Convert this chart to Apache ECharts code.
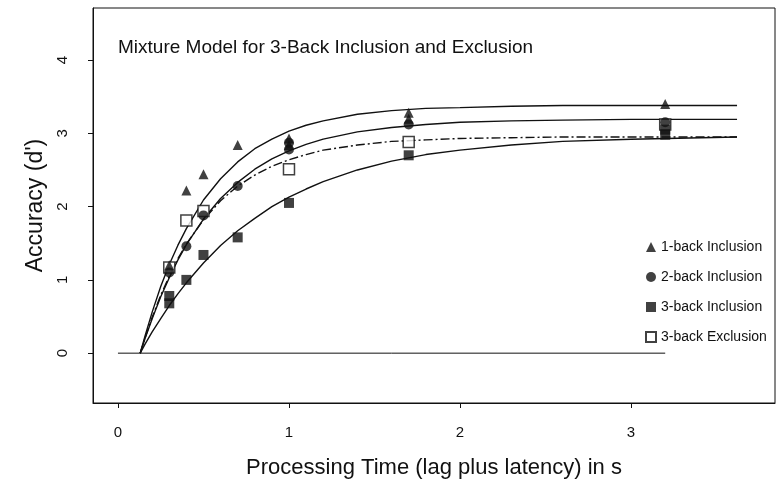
<!DOCTYPE html>
<html><head><meta charset="utf-8">
<script src="https://cdn.jsdelivr.net/npm/echarts@6/dist/echarts.min.js"></script>
<style>html,body{margin:0;padding:0;background:#fff}#c{width:776px;height:485px}</style>
</head><body><div id="c"></div>
<script>
// Observed data
var oneBackX = [0.3, 0.4, 0.5, 0.7, 1.0, 1.0, 1.7, 1.7, 3.2];
var oneBackY = [1.2, 2.22, 2.44, 2.84, 2.93, 2.84, 3.28, 3.2, 3.4];
var twoBackX = [0.3, 0.4, 0.5, 0.7, 1.0, 1.0, 1.7, 3.2];
var twoBackY = [1.1, 1.46, 1.88, 2.28, 2.87, 2.78, 3.12, 3.15];
var threeIncX = [0.3, 0.3, 0.4, 0.5, 0.7, 1.0, 1.7, 3.2, 3.2];
var threeIncY = [0.78, 0.68, 1.0, 1.34, 1.58, 2.05, 2.7, 3.05, 2.98];
var exclX = [0.3, 0.4, 0.5, 1.0, 1.7, 3.2];
var exclY = [1.17, 1.81, 1.94, 2.51, 2.88, 3.12];
// Model curves
var curveT = [0.13, 0.16, 0.2, 0.25, 0.3, 0.35, 0.4, 0.5, 0.6, 0.7, 0.8, 0.9, 1.0, 1.1, 1.2, 1.4, 1.6, 1.8, 2.0, 2.3, 2.6, 3.0, 3.62];
var curve1 = [0, 0.25, 0.56, 0.91, 1.21, 1.47, 1.70, 2.09, 2.38, 2.61, 2.79, 2.92, 3.03, 3.11, 3.17, 3.26, 3.31, 3.34, 3.35, 3.37, 3.38, 3.38, 3.38];
var curve2 = [0, 0.21, 0.47, 0.77, 1.03, 1.27, 1.48, 1.83, 2.11, 2.33, 2.51, 2.65, 2.76, 2.85, 2.92, 3.02, 3.08, 3.12, 3.15, 3.17, 3.18, 3.19, 3.19];
var curve3 = [0, 0.13, 0.29, 0.47, 0.65, 0.81, 0.96, 1.23, 1.47, 1.67, 1.84, 2.00, 2.13, 2.24, 2.34, 2.50, 2.62, 2.71, 2.77, 2.84, 2.89, 2.92, 2.95];
var curve4 = [0, 0.22, 0.49, 0.79, 1.05, 1.29, 1.49, 1.82, 2.08, 2.28, 2.43, 2.55, 2.64, 2.71, 2.77, 2.84, 2.89, 2.91, 2.93, 2.94, 2.95, 2.95, 2.95];
var zeroX = [0, 3.2];
var zeroY = [0, 0];
var xTicks = [0, 1, 2, 3];
var yTicks = [0, 1, 2, 3, 4];
var names = ['1-back Inclusion', '2-back Inclusion', '3-back Inclusion', '3-back Exclusion'];

function pairs(xs, ys) { return xs.map(function (x, i) { return [x, ys[i]]; }); }
var FONT = '"Liberation Sans", Arial, Helvetica, sans-serif';
function curve(ys, dashed) {
  return { type: 'line', data: pairs(curveT, ys), showSymbol: false, smooth: false,
    silent: true, z: 1, lineStyle: { color: '#111', width: 1.4, type: dashed ? [9, 3, 2, 3] : 'solid' } };
}
var chart = echarts.init(document.getElementById('c'));
chart.setOption({
  animation: false,
  backgroundColor: '#fff',
  title: { text: 'Mixture Model for 3-Back Inclusion and Exclusion', left: 113, top: 33,
    textStyle: { fontFamily: FONT, fontSize: 19, fontWeight: 'normal', color: '#111' } },
  grid: { left: 93, right: 1, top: 8, bottom: 82, show: true, borderColor: '#111', borderWidth: 1 },
  legend: { orient: 'vertical', left: 640, top: 235, itemWidth: 10, itemHeight: 10, itemGap: 16,
    textStyle: { fontFamily: FONT, fontSize: 14, color: '#111' },
    data: names },
  xAxis: { type: 'value', min: -0.146, max: 3.842,
    name: 'Processing Time (lag plus latency) in s', nameLocation: 'middle', nameGap: 54,
    nameTextStyle: { fontFamily: FONT, fontSize: 22, color: '#111' },
    axisLine: { onZero: false, lineStyle: { color: '#111' } },
    axisTick: { customValues: xTicks, length: 5, lineStyle: { color: '#111' } },
    axisLabel: { customValues: xTicks, margin: 22, fontFamily: FONT, fontSize: 15, color: '#111' },
    splitLine: { show: false } },
  yAxis: { type: 'value', min: -0.68, max: 4.71,
    name: "Accuracy (d')", nameLocation: 'middle', nameGap: 41,
    nameTextStyle: { fontFamily: FONT, fontSize: 23, color: '#111' },
    axisLine: { onZero: false, lineStyle: { color: '#111' } },
    axisTick: { customValues: yTicks, length: 5, lineStyle: { color: '#111' } },
    axisLabel: { customValues: yTicks, rotate: 90, margin: 23, fontFamily: FONT, fontSize: 15, color: '#111' },
    splitLine: { show: false } },
  series: [
    { type: 'line', data: pairs(zeroX, zeroY), showSymbol: false, silent: true, lineStyle: { color: '#111', width: 1 } },
    curve(curve1, false), curve(curve2, false), curve(curve3, false), curve(curve4, true),
    { name: names[3], type: 'scatter', data: pairs(exclX, exclY), symbol: 'rect', symbolSize: 11, z: 3,
      itemStyle: { color: '#fff', borderColor: '#111', borderWidth: 1.5 } },
    { name: names[0], type: 'scatter', data: pairs(oneBackX, oneBackY), symbol: 'triangle', symbolSize: 10, z: 4,
      itemStyle: { color: '#111' } },
    { name: names[1], type: 'scatter', data: pairs(twoBackX, twoBackY), symbol: 'circle', symbolSize: 10, z: 4,
      itemStyle: { color: '#111' } },
    { name: names[2], type: 'scatter', data: pairs(threeIncX, threeIncY), symbol: 'rect', symbolSize: 10, z: 4,
      itemStyle: { color: '#111' } }
  ]
});
</script></body></html>
